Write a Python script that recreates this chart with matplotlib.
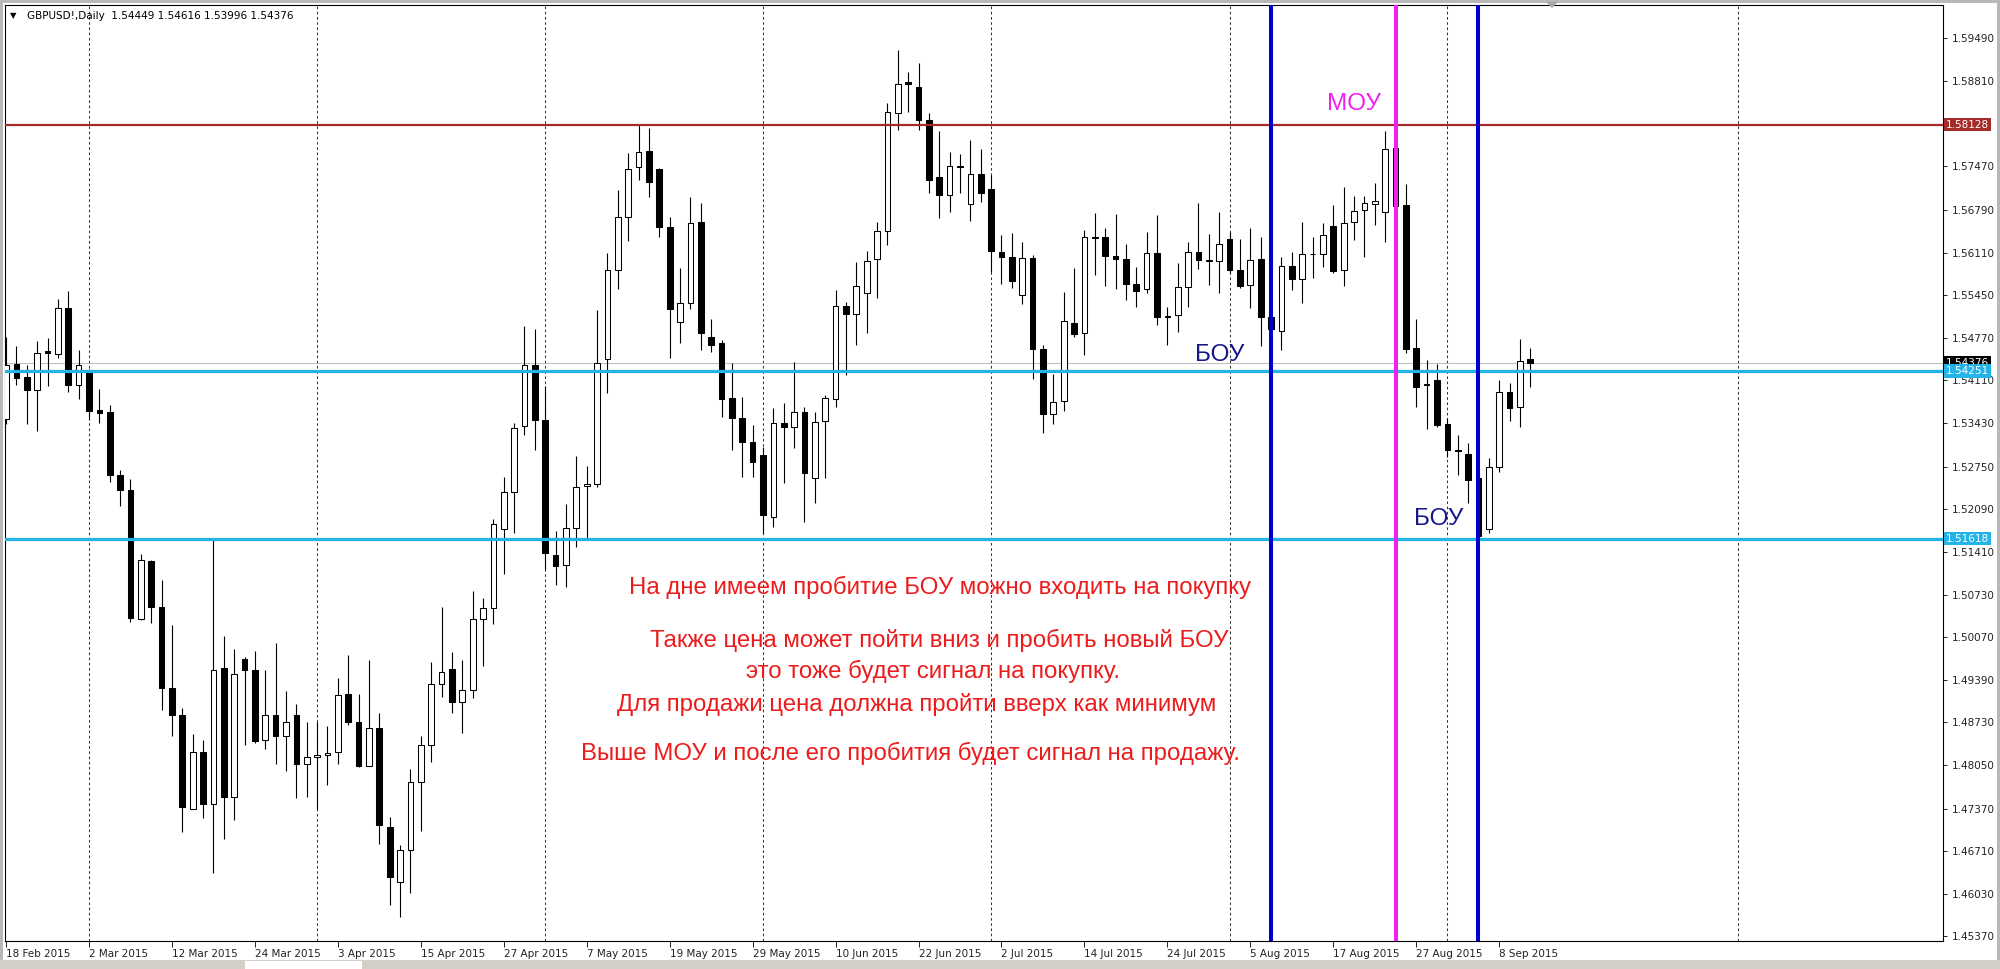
import matplotlib.pyplot as plt
from matplotlib.patches import Polygon, Rectangle

W, H = 2000, 969

# GBPUSD daily, 18 Feb 2015 .. 11 Sep 2015
opens = [
    1.5350, 1.5436, 1.5416, 1.5395, 1.5457, 1.5452, 1.5524, 1.5403, 1.5425, 1.5364,
    1.5361, 1.5262, 1.5238, 1.5035, 1.5126, 1.5054, 1.4927, 1.4884, 1.4736, 1.4826,
    1.4744, 1.4958, 1.4755, 1.4972, 1.4955, 1.4845, 1.4884, 1.4851, 1.4884, 1.4808,
    1.4818, 1.4821, 1.4826, 1.4917, 1.4873, 1.4804, 1.4864, 1.4708, 1.4621, 1.4672,
    1.4779, 1.4838, 1.4933, 1.4957, 1.4905, 1.4924, 1.5035, 1.5052, 1.5177, 1.5235,
    1.5339, 1.5435, 1.5348, 1.5136, 1.5120, 1.5178, 1.5244, 1.5247, 1.5444, 1.5584,
    1.5667, 1.5746, 1.5771, 1.5743, 1.5652, 1.5502, 1.5532, 1.5660, 1.5479, 1.5469,
    1.5383, 1.5351, 1.5314, 1.5293, 1.5196, 1.5344, 1.5337, 1.5361, 1.5257, 1.5347,
    1.5381, 1.5527, 1.5515, 1.5548, 1.5601, 1.5645, 1.5831, 1.5880, 1.5872, 1.5820,
    1.5730, 1.5702, 1.5748, 1.5688, 1.5735, 1.5712, 1.5612, 1.5605, 1.5545, 1.5603,
    1.5460, 1.5358, 1.5378, 1.5501, 1.5485, 1.5636, 1.5636, 1.5606, 1.5601, 1.5562,
    1.5554, 1.5611, 1.5510, 1.5513, 1.5557, 1.5612, 1.5598, 1.5598, 1.5633, 1.5584,
    1.5561, 1.5601, 1.5510, 1.5488, 1.5590, 1.5570, 1.5609, 1.5609, 1.5653, 1.5584,
    1.5660, 1.5679, 1.5688, 1.5675, 1.5776, 1.5686, 1.5461, 1.5405, 1.5411, 1.5342,
    1.5301, 1.5295, 1.5257, 1.5177, 1.5274, 1.5392, 1.5369, 1.54449,
]
highs = [
    1.5479, 1.5465, 1.5435, 1.5472, 1.5477, 1.5538, 1.5551, 1.5458, 1.5428, 1.5397,
    1.5372, 1.5269, 1.5255, 1.5137, 1.5128, 1.5096, 1.5026, 1.4895, 1.4854, 1.4845,
    1.5163, 1.5008, 1.4988, 1.4975, 1.4985, 1.4955, 1.4997, 1.4922, 1.4901, 1.4873,
    1.4873, 1.4867, 1.4942, 1.4978, 1.4917, 1.4971, 1.4887, 1.4724, 1.4680, 1.4799,
    1.4851, 1.4968, 1.5054, 1.4983, 1.4971, 1.5079, 1.5068, 1.5193, 1.5259, 1.5344,
    1.5496, 1.5491, 1.5402, 1.5173, 1.5216, 1.5291, 1.5276, 1.5521, 1.5611, 1.5710,
    1.5768, 1.5812, 1.5807, 1.5745, 1.5667, 1.5587, 1.5699, 1.5689, 1.5507, 1.5474,
    1.5438, 1.5384, 1.5340, 1.5306, 1.5367, 1.5375, 1.5439, 1.5369, 1.5361, 1.5388,
    1.5553, 1.5534, 1.5597, 1.5614, 1.5660, 1.5847, 1.5930, 1.5896, 1.5910, 1.5831,
    1.5803, 1.5770, 1.5767, 1.5789, 1.5775, 1.5734, 1.5639, 1.5642, 1.5628, 1.5608,
    1.5466, 1.5421, 1.5549, 1.5587, 1.5647, 1.5674, 1.5650, 1.5672, 1.5625, 1.5589,
    1.5644, 1.5671, 1.5526, 1.5595, 1.5628, 1.5689, 1.5641, 1.5675, 1.5644, 1.5633,
    1.5650, 1.5636, 1.5521, 1.5605, 1.5612, 1.5660, 1.5636, 1.5658, 1.5686, 1.5715,
    1.5700, 1.5700, 1.5721, 1.5803, 1.5813, 1.5719, 1.5507, 1.5442, 1.5436, 1.5352,
    1.5325, 1.5312, 1.5274, 1.5288, 1.5411, 1.5406, 1.5476, 1.54616,
]
lows = [
    1.5342, 1.5403, 1.5342, 1.5331, 1.5402, 1.5446, 1.5392, 1.5381, 1.5350, 1.5344,
    1.5251, 1.5213, 1.5030, 1.5034, 1.5029, 1.4892, 1.4851, 1.4700, 1.4736, 1.4722,
    1.4636, 1.4689, 1.4720, 1.4837, 1.4840, 1.4831, 1.4807, 1.4796, 1.4754, 1.4755,
    1.4736, 1.4774, 1.4807, 1.4868, 1.4802, 1.4804, 1.4681, 1.4585, 1.4566, 1.4604,
    1.4702, 1.4810, 1.4912, 1.4887, 1.4856, 1.4911, 1.4961, 1.5027, 1.5106, 1.5171,
    1.5325, 1.5301, 1.5114, 1.5089, 1.5085, 1.5148, 1.5163, 1.5243, 1.5391, 1.5554,
    1.5630, 1.5726, 1.5699, 1.5636, 1.5446, 1.5469, 1.5523, 1.5458, 1.5455, 1.5353,
    1.5301, 1.5259, 1.5259, 1.5170, 1.5180, 1.5249, 1.5304, 1.5188, 1.5218, 1.5257,
    1.5369, 1.5419, 1.5466, 1.5485, 1.5540, 1.5623, 1.5804, 1.5833, 1.5804, 1.5705,
    1.5666, 1.5675, 1.5705, 1.5661, 1.5691, 1.5581, 1.5562, 1.5556, 1.5531, 1.5413,
    1.5328, 1.5342, 1.5362, 1.5479, 1.5450, 1.5576, 1.5559, 1.5554, 1.5537, 1.5526,
    1.5548, 1.5498, 1.5466, 1.5487, 1.5526, 1.5586, 1.5561, 1.5548, 1.5579, 1.5556,
    1.5524, 1.5465, 1.5455, 1.5458, 1.5553, 1.5532, 1.5571, 1.5589, 1.5579, 1.5559,
    1.5631, 1.5605, 1.5655, 1.5628, 1.5682, 1.5454, 1.5369, 1.5334, 1.5337, 1.5290,
    1.5262, 1.5218, 1.5162, 1.5171, 1.5266, 1.5347, 1.5337, 1.53996,
]
closes = [
    1.5435, 1.5414, 1.5395, 1.5454, 1.5454, 1.5524, 1.5403, 1.5435, 1.5362, 1.5359,
    1.5262, 1.5238, 1.5037, 1.5128, 1.5054, 1.4927, 1.4884, 1.4739, 1.4826, 1.4744,
    1.4955, 1.4755, 1.4949, 1.4955, 1.4843, 1.4884, 1.4851, 1.4873, 1.4808, 1.4818,
    1.4821, 1.4824, 1.4916, 1.4873, 1.4804, 1.4864, 1.4711, 1.4629, 1.4672, 1.4779,
    1.4838, 1.4933, 1.4952, 1.4905, 1.4924, 1.5035, 1.5052, 1.5185, 1.5235, 1.5336,
    1.5435, 1.5348, 1.5139, 1.5118, 1.5178, 1.5243, 1.5247, 1.5438, 1.5584, 1.5667,
    1.5743, 1.5770, 1.5722, 1.5652, 1.5523, 1.5532, 1.5658, 1.5485, 1.5466, 1.5381,
    1.5351, 1.5314, 1.5282, 1.5199, 1.5344, 1.5337, 1.5361, 1.5265, 1.5345, 1.5383,
    1.5527, 1.5515, 1.5559, 1.5598, 1.5645, 1.5833, 1.5877, 1.5877, 1.5820, 1.5726,
    1.5702, 1.5748, 1.5746, 1.5735, 1.5705, 1.5614, 1.5605, 1.5567, 1.5603, 1.5460,
    1.5358, 1.5376, 1.5504, 1.5483, 1.5636, 1.5634, 1.5606, 1.5601, 1.5562, 1.5551,
    1.5611, 1.5510, 1.5512, 1.5557, 1.5612, 1.5600, 1.5600, 1.5625, 1.5584, 1.5559,
    1.5600, 1.5510, 1.5491, 1.5590, 1.5570, 1.5609, 1.5610, 1.5639, 1.5582, 1.5658,
    1.5677, 1.5690, 1.5693, 1.5774, 1.5685, 1.5460, 1.5400, 1.5403, 1.5340, 1.5301,
    1.5299, 1.5254, 1.5166, 1.5274, 1.5392, 1.5367, 1.5441, 1.54376,
]

date_labels = [
    '18 Feb 2015', '2 Mar 2015', '12 Mar 2015', '24 Mar 2015', '3 Apr 2015',
    '15 Apr 2015', '27 Apr 2015', '7 May 2015', '19 May 2015', '29 May 2015',
    '10 Jun 2015', '22 Jun 2015', '2 Jul 2015', '14 Jul 2015', '24 Jul 2015',
    '5 Aug 2015', '17 Aug 2015', '27 Aug 2015', '8 Sep 2015',
]
LABEL_STEP = 8
month_start_bars = [8, 30, 52, 73, 95, 118, 139, 167]

# 1.58130 sits under the red level tag, so it is left out
price_ticks = [
    1.59490, 1.58810, 1.57470, 1.56790, 1.56110, 1.55450, 1.54770,
    1.54110, 1.53430, 1.52750, 1.52090, 1.51410, 1.50730, 1.50070, 1.49390,
    1.48730, 1.48050, 1.47370, 1.46710, 1.46030, 1.45370,
]
mou_level = 1.58128
bou_levels = [1.54251, 1.51618]
bid_price = 1.54376
blue_bars = [122, 142]
magenta_bar = 134

notes = [
    'На дне имеем пробитие БОУ можно входить на покупку',
    'Также цена может пойти вниз и пробить новый БОУ',
    'это тоже будет сигнал на покупку.',
    'Для продажи цена должна пройти вверх как минимум',
    'Выше МОУ и после его пробития будет сигнал на продажу.',
]
note_pos = [(940, 587), (939, 640), (933, 671), (917, 704), (910, 753)]

RED = '#EC1C1C'
CYAN = '#22B4E6'
BROWN = '#A52A2A'
NAVY = '#16168A'
BLUE = '#0000CD'
MAGENTA = '#F020F0'

fig = plt.figure(figsize=(W / 100, H / 100), dpi=100)
fig.patch.set_facecolor('white')

# window chrome
fig.patches.append(Rectangle((0, 1 - 3 / H), 1, 3 / H, transform=fig.transFigure,
                             fc='#B8B8B8', ec='none'))
fig.patches.append(Rectangle((0, 0), 3 / W, 1, transform=fig.transFigure,
                             fc='#B8B8B8', ec='none'))
fig.patches.append(Rectangle((1 - 3 / W, 0), 3 / W, 1, transform=fig.transFigure,
                             fc='#B8B8B8', ec='none'))
fig.patches.append(Rectangle((0, 0), 1, 9 / H, transform=fig.transFigure,
                             fc='#D4D0C8', ec='none'))
fig.patches.append(Rectangle((245 / W, 0), 117 / W, 8 / H, transform=fig.transFigure,
                             fc='white', ec='none'))

left, right, top, bottom = 5, 1943, 5, 941
ax = fig.add_axes([left / W, 1 - bottom / H, (right - left) / W, (bottom - top) / H])
ax.set_xlim(-0.1, 186.8)
ax.set_ylim(1.45290, 1.60009)

# grid: first bar of each month
for b in month_start_bars:
    ax.axvline(b, color='#333333', lw=0.75, ls=(0, (2.5, 2.5)), zorder=1)

# candles
n = len(opens)
xs = list(range(n))
ax.vlines(xs, lows, highs, color='black', lw=0.8, zorder=3)
for i in xs:
    o, c = opens[i], closes[i]
    bull = c >= o
    ax.bar(i, max(abs(c - o), 0.00002), bottom=min(o, c), width=0.55,
           facecolor='white' if bull else 'black', edgecolor='black',
           linewidth=0.75, zorder=4)

# horizontal levels
ax.axhline(bid_price, color='#C0C0C0', lw=0.8, zorder=2)
ax.axhline(mou_level, color=BROWN, lw=1.6, zorder=5)
for lv in bou_levels:
    ax.axhline(lv, color=CYAN, lw=2.3, zorder=5)

# vertical markers
for b in blue_bars:
    ax.axvline(b, color=BLUE, lw=2.9, zorder=6)
ax.axvline(magenta_bar, color=MAGENTA, lw=2.9, zorder=6)

# axes look
for sp in ax.spines.values():
    sp.set_color('black')
    sp.set_linewidth(0.8)
ax.yaxis.tick_right()
ax.set_yticks(price_ticks)
ax.set_yticklabels([f'{p:.5f}' for p in price_ticks])
ax.tick_params(axis='y', length=3, width=0.7, pad=3.5, labelsize=7.5, colors='#222222')
ax.set_xticks(list(range(0, LABEL_STEP * len(date_labels), LABEL_STEP)))
ax.set_xticklabels(date_labels)
ax.tick_params(axis='x', length=4, width=0.7, pad=1.5, labelsize=7.5, colors='#222222')
for lab in ax.get_xticklabels():
    lab.set_ha('left')

# price labels on the scale
ytr = ax.get_yaxis_transform()
lx = (1946 - left) / (right - left)
box_labels = [(bid_price, 'black'), (mou_level, BROWN),
              (bou_levels[0], CYAN), (bou_levels[1], CYAN)]
for val, col in box_labels:
    ax.text(lx, val, f'{val:.5f}', transform=ytr, ha='left', va='center',
            fontsize=7.5, color='white', clip_on=False, zorder=20,
            bbox=dict(boxstyle='square,pad=0.18', fc=col, ec='none'))

# annotations
ann_font = ['Liberation Sans', 'DejaVu Sans']
for txt, (px, py) in zip(notes, note_pos):
    fig.text(px / W, 1 - py / H, txt, ha='center', va='center', color=RED,
             fontsize=17.3, family=ann_font)
fig.text(1354 / W, 1 - 104 / H, 'МОУ', ha='center', va='center', color=MAGENTA,
         fontsize=17.5, family=ann_font)
fig.text(1220 / W, 1 - 355 / H, 'БОУ', ha='center', va='center', color=NAVY,
         fontsize=17.5, family=ann_font)
fig.text(1439 / W, 1 - 519 / H, 'БОУ', ha='center', va='center', color=NAVY,
         fontsize=17.5, family=ann_font)

# header
fig.text(10 / W, 1 - 16 / H, '▼', ha='left', va='center', fontsize=6, color='black')
fig.text(27 / W, 1 - 16 / H,
         f'GBPUSD!,Daily  {opens[-1]:.5f} {highs[-1]:.5f} {lows[-1]:.5f} {closes[-1]:.5f}',
         ha='left', va='center', fontsize=7.5, color='black')

# chart shift marker
fig.patches.append(Polygon([(1546 / W, 1 - 2 / H), (1558 / W, 1 - 2 / H), (1552 / W, 1 - 8 / H)],
                           closed=True, transform=fig.transFigure, fc='#A8A8A8', ec='none'))

fig.savefig('out.png', dpi=100)
